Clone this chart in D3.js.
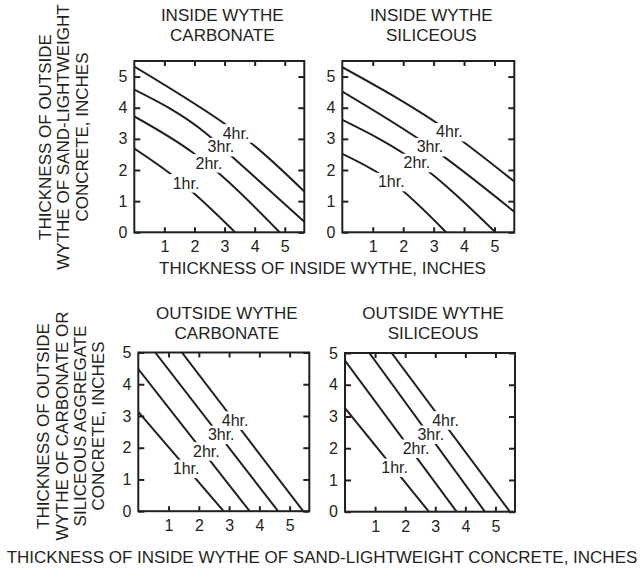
<!DOCTYPE html>
<html><head><meta charset="utf-8">
<script src="https://cdn.jsdelivr.net/npm/d3@7"></script>
<style>
body{margin:0;background:#fff}
svg{display:block}
text{font-family:"Liberation Sans",Arial,Helvetica,sans-serif;fill:#231f20}
</style></head>
<body><svg id="c" width="641" height="571"></svg>
<script>
// ---------- DATA ----------
const ratings = ["1hr.", "2hr.", "3hr.", "4hr."];
const xTicks = [1, 2, 3, 4, 5];
const yTicks = [0, 1, 2, 3, 4, 5];
const xMax = 5.65;

const panelTitles = [
  ["INSIDE WYTHE", "CARBONATE"],
  ["INSIDE WYTHE", "SILICEOUS"],
  ["OUTSIDE WYTHE", "CARBONATE"],
  ["OUTSIDE WYTHE", "SILICEOUS"]
];
const topYTitle = ["THICKNESS OF OUTSIDE", "WYTHE OF SAND-LIGHTWEIGHT", "CONCRETE, INCHES"];
const bottomYTitle = ["THICKNESS OF OUTSIDE", "WYTHE OF CARBONATE OR", "SILICEOUS AGGREGATE", "CONCRETE, INCHES"];
const topXTitle = "THICKNESS OF INSIDE WYTHE, INCHES";
const bottomXTitle = "THICKNESS OF INSIDE WYTHE OF SAND-LIGHTWEIGHT CONCRETE, INCHES";

// curves: [inside thickness, outside thickness] for 1hr..4hr
const insideCarbonate = [
  [[0, 2.69], [1.21, 1.87], [1.98, 1.25], [3.35, 0]],
  [[0, 3.72], [1.94, 2.56], [2.74, 1.95], [4.83, 0]],
  [[0, 4.58], [2.38, 3.18], [3.18, 2.49], [5.65, 0.34]],
  [[0, 5.32], [2.98, 3.50], [3.72, 2.99], [5.65, 1.31]]
];
const insideCarbonateLabels = [[1.72, 1.59], [2.48, 2.23], [2.88, 2.75], [3.38, 3.19]];

const insideSiliceous = [
  [[0, 2.52], [1.61, 1.63], [3.41, 0]],
  [[0, 3.61], [2.45, 2.24], [5.03, 0]],
  [[0, 4.52], [2.88, 2.75], [5.65, 0.66]],
  [[0, 5.30], [3.52, 3.23], [5.65, 1.63]]
];
const insideSiliceousLabels = [[1.61, 1.63], [2.45, 2.24], [2.88, 2.75], [3.52, 3.23]];

const outsideCarbonate = [
  [[0, 3.13], [2.82, 0]],
  [[0, 4.48], [3.68, 0]],
  [[0.56, 5], [4.62, 0]],
  [[1.44, 5], [5.45, 0]]
];
const outsideCarbonateLabels = [[1.58, 1.35], [2.25, 1.90], [2.74, 2.42], [3.20, 2.87]];

const outsideSiliceous = [
  [[0, 3.26], [2.79, 0]],
  [[0, 4.76], [3.71, 0]],
  [[0.81, 5], [4.65, 0]],
  [[1.55, 5], [5.48, 0]]
];
const outsideSiliceousLabels = [[1.65, 1.40], [2.36, 2.00], [2.85, 2.44], [3.34, 2.89]];

// ---------- LAYOUT ----------
const INK = "#231f20";
const panels = [
  {box: [134.3, 304.3, 61, 232.3], yMax: 5.5, curves: insideCarbonate, labels: insideCarbonateLabels, title: panelTitles[0], tY: 20.5},
  {box: [342.3, 514.3, 61, 232.3], yMax: 5.5, curves: insideSiliceous, labels: insideSiliceousLabels, title: panelTitles[1], tY: 20.5},
  {box: [138.3, 309.3, 352.5, 511.2], yMax: 5, curves: outsideCarbonate, labels: outsideCarbonateLabels, title: panelTitles[2], tY: 319},
  {box: [345, 515, 353, 511.7], yMax: 5, curves: outsideSiliceous, labels: outsideSiliceousLabels, title: panelTitles[3], tY: 319}
];

const svg = d3.select("#c");

panels.forEach((p, pi) => {
  const [x0, x1, y0, y1] = p.box;
  const x = d3.scaleLinear().domain([0, xMax]).range([x0, x1]);
  const y = d3.scaleLinear().domain([0, p.yMax]).range([y1, y0]);
  const g = svg.append("g");

  const clipId = "clip" + pi;
  g.append("clipPath").attr("id", clipId).append("rect")
    .attr("x", x0).attr("y", y0).attr("width", x1 - x0).attr("height", y1 - y0);

  const line = d3.line().x(d => x(d[0])).y(d => y(d[1])).curve(d3.curveMonotoneX);
  g.append("g").attr("clip-path", `url(#${clipId})`)
    .selectAll("path").data(p.curves).join("path")
    .attr("d", line).attr("fill", "none").attr("stroke", INK)
    .attr("stroke-width", 2).attr("stroke-linecap", "butt");

  // labels with white knock-out
  const lg = g.append("g");
  p.labels.forEach((d, i) => {
    const t = lg.append("text")
      .attr("x", x(d[0])).attr("y", y(d[1]) + 16 * 0.36)
      .attr("text-anchor", "middle").attr("font-size", 16)
      .text(ratings[i]);
    const bb = t.node().getBBox();
    lg.insert("rect", "text")
      .attr("x", bb.x - 3).attr("y", bb.y - 0.5)
      .attr("width", bb.width + 6).attr("height", bb.height + 1.5)
      .attr("fill", "#fff");
  });

  // axes
  const styleAxis = sel => {
    sel.select(".domain").remove();
    sel.attr("font-family", '"Liberation Sans",Arial,Helvetica,sans-serif')
      .attr("font-size", 16).attr("color", INK);
    sel.selectAll(".tick line").attr("stroke-width", 2);
    sel.selectAll(".tick text").attr("fill", INK);
  };
  g.append("g").attr("transform", `translate(0,${y1})`)
    .call(d3.axisBottom(x).tickValues(xTicks).tickSizeInner(-5).tickSizeOuter(0).tickPadding(8.6).tickFormat(d3.format("d")))
    .call(styleAxis);
  g.append("g").attr("transform", `translate(0,${y0})`)
    .call(d3.axisTop(x).tickValues(xTicks).tickSizeInner(-5).tickSizeOuter(0).tickFormat(""))
    .call(styleAxis);
  g.append("g").attr("transform", `translate(${x0},0)`)
    .call(d3.axisLeft(y).tickValues(yTicks).tickSizeInner(-6).tickSizeOuter(0).tickPadding(7).tickFormat(d3.format("d")))
    .call(styleAxis);
  g.append("g").attr("transform", `translate(${x1},0)`)
    .call(d3.axisRight(y).tickValues(yTicks).tickSizeInner(-6).tickSizeOuter(0).tickFormat(""))
    .call(styleAxis);

  // frame
  g.append("rect").attr("x", x0).attr("y", y0)
    .attr("width", x1 - x0).attr("height", y1 - y0)
    .attr("fill", "none").attr("stroke", INK).attr("stroke-width", 2);

  // title
  const cx = (x0 + x1) / 2 + 3;
  p.title.forEach((s, i) => {
    svg.append("text").attr("x", cx).attr("y", p.tY + i * 20.3)
      .attr("text-anchor", "middle").attr("font-size", 17).text(s);
  });
});

// y-axis titles
function vTitle(lines, cx0, step, cy) {
  lines.forEach((s, i) => {
    const cx = cx0 + i * step + 17 * 0.36;
    svg.append("text")
      .attr("transform", `translate(${cx},${cy}) rotate(-90)`)
      .attr("text-anchor", "middle").attr("font-size", 17).text(s);
  });
}
vTitle(topYTitle, 44.5, 18.5, 137);
vTitle(bottomYTitle, 43.3, 18.3, 426);

// x-axis titles
svg.append("text").attr("x", 322.5).attr("y", 274).attr("text-anchor", "middle").attr("font-size", 17).text(topXTitle);
svg.append("text").attr("x", 322).attr("y", 563).attr("text-anchor", "middle").attr("font-size", 17).text(bottomXTitle);
</script>
</body></html>
